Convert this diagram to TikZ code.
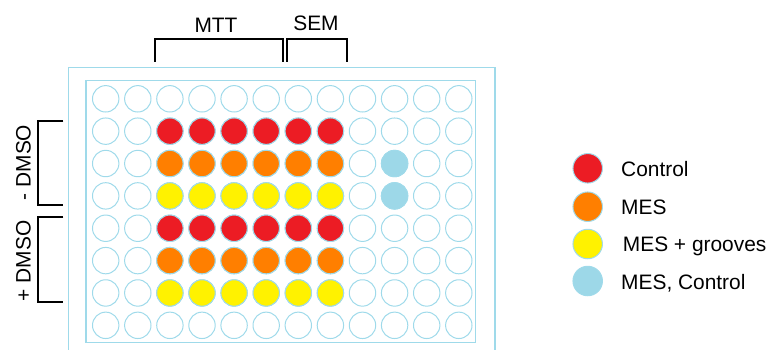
\documentclass[tikz,border=0pt]{standalone}
\usepackage{fontspec}
\setmainfont{Liberation Sans}
\definecolor{wellblue}{HTML}{9FDAEA}
\definecolor{wred}{HTML}{EC1C24}
\definecolor{worange}{HTML}{FF7F00}
\definecolor{wyellow}{HTML}{FFF200}
\definecolor{wlblue}{HTML}{9DD8E8}
\tikzset{
  well/.style={circle, draw=wellblue, line width=1pt, minimum size=26.4pt, inner sep=0pt},
  legwell/.style={circle, draw=wellblue, line width=1pt, minimum size=29.5pt, inner sep=0pt},
  plate/.style={draw=wellblue, line width=1.3pt},
  brk/.style={draw=black, line width=2.3pt},
  lbl/.style={font=\fontsize{20.9}{24}\selectfont, inner sep=0pt, anchor=base}
}
\begin{document}
\begin{tikzpicture}[x=1pt,y=-1pt]
\useasboundingbox (0,0) rectangle (770,349);
% plate
\draw[plate] (68.3,352) -- (68.3,67.3) -- (495,67.3) -- (495,352);
\draw[plate] (86,80.7) rectangle (475.7,342.3);
% wells
\foreach \r in {0,...,7}{
  \foreach \c in {0,...,11}{
    \node[well] (w-\r-\c) at ({105.7+32.1*\c},{98.8+32.36*\r}) {};
  }
}
\foreach \c in {2,...,7}{
  \node[well, fill=wred] (r1-\c) at ({105.7+32.1*\c},{98.8+32.36*1}) {};
  \node[well, fill=worange] (r2-\c) at ({105.7+32.1*\c},{98.8+32.36*2}) {};
  \node[well, fill=wyellow] (r3-\c) at ({105.7+32.1*\c},{98.8+32.36*3}) {};
  \node[well, fill=wred] (r4-\c) at ({105.7+32.1*\c},{98.8+32.36*4}) {};
  \node[well, fill=worange] (r5-\c) at ({105.7+32.1*\c},{98.8+32.36*5}) {};
  \node[well, fill=wyellow] (r6-\c) at ({105.7+32.1*\c},{98.8+32.36*6}) {};
}
\node[well, fill=wlblue] (lb1) at ({105.7+32.1*9},{98.8+32.36*2}) {};
\node[well, fill=wlblue] (lb2) at ({105.7+32.1*9},{98.8+32.36*3}) {};
% top brackets
\draw[brk] (155,61.7) -- (155,39.3) -- (282.7,39.3) -- (282.7,61.7);
\draw[brk] (286.7,61.7) -- (286.7,39.3) -- (347.3,39.3) -- (347.3,61.7);
\node[lbl] (mtt) at (216,32.3) {MTT};
\node[lbl] (sem) at (316,30.7) {SEM};
% left brackets
\draw[brk] (63.3,120.7) -- (38.3,120.7) -- (38.3,205.3) -- (63.3,205.3);
\draw[brk] (63.3,216.7) -- (38.3,216.7) -- (38.3,301.7) -- (63.3,301.7);
\node[lbl, rotate=90] (mdmso) at (30.7,162.5) {- DMSO};
\node[lbl, rotate=90] (pdmso) at (30.7,260.8) {+ DMSO};
% legend
\node[legwell, fill=wred] (l1) at (587.7,168.3) {};
\node[legwell, fill=worange] (l2) at (587.7,206.7) {};
\node[legwell, fill=wyellow] (l3) at (587.7,244) {};
\node[legwell, fill=wlblue] (l4) at (587.7,281) {};
\node[lbl, anchor=base west] (t1) at (621,176) {Control};
\node[lbl, anchor=base west] (t2) at (621,214) {MES};
\node[lbl, anchor=base west] (t3) at (622.7,251.7) {MES + grooves};
\node[lbl, anchor=base west] (t4) at (621,289) {MES, Control};
\end{tikzpicture}
\end{document}
